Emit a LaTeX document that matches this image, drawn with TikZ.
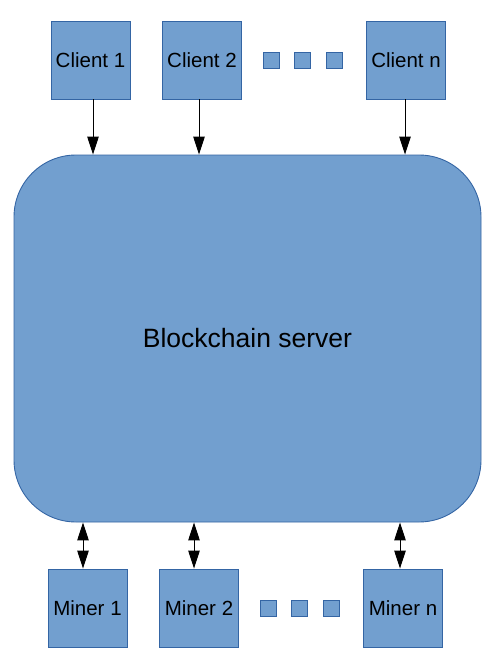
\documentclass[tikz,border=0pt]{standalone}
\usepackage{fontspec}
\setmainfont{Liberation Sans}
\usetikzlibrary{arrows.meta}
\definecolor{boxfill}{HTML}{729FCF}
\definecolor{boxline}{HTML}{3465A4}
\tikzset{
  unitbox/.style={draw=boxline, fill=boxfill, line width=0.9pt, minimum width=79pt, minimum height=78pt, inner sep=0pt, font=\fontsize{20.5}{24}\selectfont},
  dotbox/.style={draw=boxline, fill=boxfill, line width=0.9pt, minimum width=16pt, minimum height=16pt, inner sep=0pt},
  serverbox/.style={draw=boxline, fill=boxfill, line width=0.9pt, rounded corners=62pt, minimum width=467pt, minimum height=367pt, inner sep=0pt, font=\fontsize{26.5}{30}\selectfont},
  conn/.style={line width=1pt, -{Triangle[length=18pt,width=11.5pt]}},
  biconn/.style={line width=1pt, {Triangle[length=18pt,width=11.5pt]}-{Triangle[length=18pt,width=11.5pt]}}
}
\begin{document}
\begin{tikzpicture}[x=1pt,y=-1pt]
\useasboundingbox[fill=white] (0,0) rectangle (494,666);
\node[serverbox] (srv) at (247.5,338.5) {Blockchain server};
\node[unitbox] (c1) at (90.5,60) {Client 1};
\node[unitbox] (c2) at (202,60) {Client 2};
\node[unitbox] (cn) at (406,60) {Client n};
\node[dotbox] (d1) at (271,60) {};
\node[dotbox] (d2) at (302.5,60) {};
\node[dotbox] (d3) at (334,60) {};
\node[unitbox] (m1) at (87.5,608) {Miner 1};
\node[unitbox] (m2) at (199,608) {Miner 2};
\node[unitbox] (mn) at (403,608) {Miner n};
\node[dotbox] (e1) at (268,608) {};
\node[dotbox] (e2) at (299,608) {};
\node[dotbox] (e3) at (331,608) {};
\draw[conn] ([xshift=2.5pt]c1.south) -- ([xshift=2.5pt]c1.south |- srv.north);
\draw[conn] ([xshift=-3pt]c2.south) -- ([xshift=-3pt]c2.south |- srv.north);
\draw[conn] ([xshift=-1pt]cn.south) -- ([xshift=-1pt]cn.south |- srv.north);
\draw[biconn] ([xshift=-4.5pt]m1.north |- srv.south) -- ([xshift=-4.5pt]m1.north);
\draw[biconn] ([xshift=-5pt]m2.north |- srv.south) -- ([xshift=-5pt]m2.north);
\draw[biconn] ([xshift=-3pt]mn.north |- srv.south) -- ([xshift=-3pt]mn.north);
\end{tikzpicture}
\end{document}
